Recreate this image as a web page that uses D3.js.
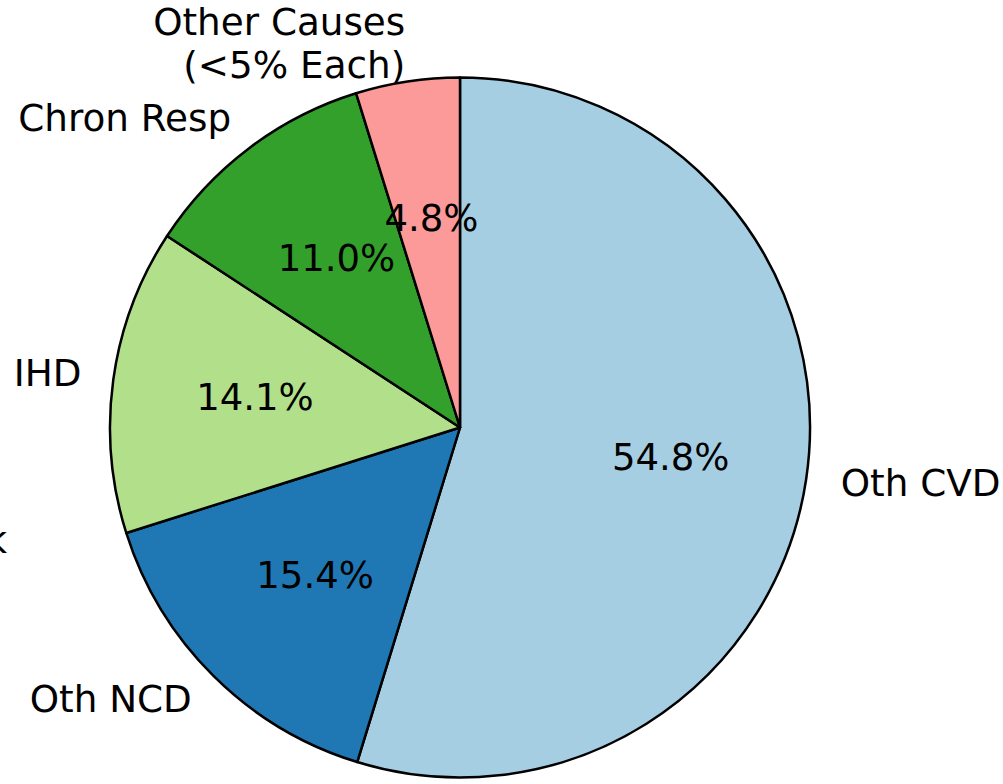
<!DOCTYPE html>
<html>
<head>
<meta charset="utf-8">
<script src="https://cdn.jsdelivr.net/npm/d3@7"></script>
<style>
html,body{margin:0;padding:0;background:#fff;}
svg{display:block;}
text{font-family:"DejaVu Sans",sans-serif;font-size:37px;fill:#000;}
</style>
</head>
<body>
<svg id="chart" width="1003" height="784"></svg>
<script>
const categories = ["Oth CVD", "Oth NCD", "IHD", "Chron Resp", "Other Causes\n(<5% Each)"];
const values = [54.8, 15.4, 14.1, 11.0, 4.8];
const colors = ["#a6cee3", "#1f78b4", "#b2df8a", "#33a02c", "#fb9a99"];
const clippedLabels = ["k"];

const svg = d3.select("#chart");
const cx = 460, cy = 427.5, r = 350;
const g = svg.append("g").attr("transform", `translate(${cx},${cy})`);

const data = categories.map((c, i) => ({label: c, value: values[i], color: colors[i]}));
const pie = d3.pie().sort(null).value(d => d.value);
const arcs = pie(data);
const arc = d3.arc().innerRadius(0).outerRadius(r);

g.selectAll("path.slice").data(arcs).enter().append("path")
  .attr("class", "slice")
  .attr("d", arc)
  .attr("fill", d => d.data.color)
  .attr("stroke", "#000")
  .attr("stroke-width", 2.5)
  .attr("stroke-linejoin", "round");

function mid(d){ return (d.startAngle + d.endAngle) / 2; }

// percentage labels
g.selectAll("text.pct").data(arcs).enter().append("text")
  .attr("class", "pct")
  .attr("x", d => 0.6 * r * Math.sin(mid(d)) + 3)
  .attr("y", d => -0.6 * r * Math.cos(mid(d)) - 1)
  .attr("text-anchor", "middle")
  .attr("dominant-baseline", "central")
  .text(d => d.data.value.toFixed(1) + "%");

// category labels
const lineH = 43;
g.selectAll("text.lbl").data(arcs).enter().append("text")
  .attr("class", "lbl")
  .style("font-size", "37.3px")
  .attr("text-anchor", d => Math.sin(mid(d)) > 0 ? "start" : "end")
  .each(function(d){
    const a = mid(d);
    const right = Math.sin(a) > 0;
    const x = 1.1 * r * Math.sin(a) + (right ? 0 : 3);
    const y = -1.1 * r * Math.cos(a) - 2;
    const lines = d.data.label.split("\n");
    const t = d3.select(this);
    lines.forEach((ln, i) => {
      t.append("tspan")
        .attr("x", x)
        .attr("y", y + (i - (lines.length - 1) / 2) * lineH - (lines.length > 1 ? 1 : 0))
        .attr("dominant-baseline", "central")
        .text(ln);
    });
  });

// label clipped off the left edge in the reference
svg.append("text")
  .style("font-size", "37.3px")
  .attr("x", 7)
  .attr("y", 540)
  .attr("text-anchor", "end")
  .attr("dominant-baseline", "central")
  .text(clippedLabels[0]);
</script>
</body>
</html>
